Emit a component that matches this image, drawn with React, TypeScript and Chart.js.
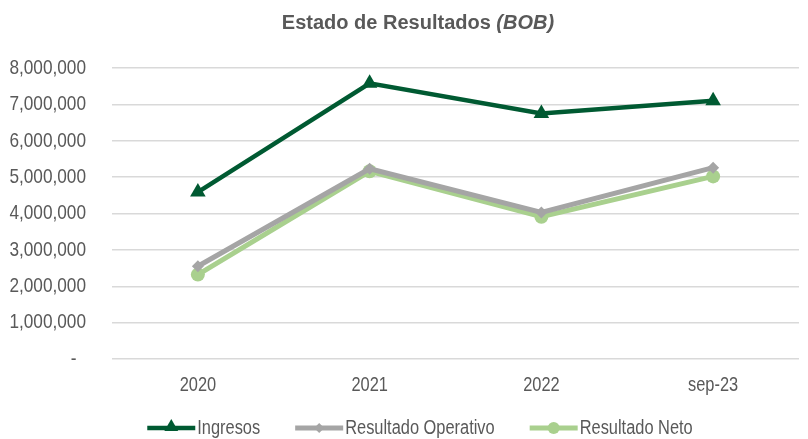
import React, { useEffect, useRef } from "react";
import { Chart, registerables } from "chart.js";

Chart.register(...registerables);

const categories = ["2020", "2021", "2022", "sep-23"];
const ingresos = [4590000, 7580000, 6750000, 7100000];
const resultadoOperativo = [2550000, 5230000, 4030000, 5260000];
const resultadoNeto = [2320000, 5160000, 3910000, 5020000];
const yTicks = [0, 1000000, 2000000, 3000000, 4000000, 5000000, 6000000, 7000000, 8000000];
const seriesNames = ["Ingresos", "Resultado Operativo", "Resultado Neto"];
const seriesColors = ["#005A32", "#A5A5A5", "#A9D08E"];

const FONT = "'Liberation Sans', Arial, sans-serif";
const TEXT = "#595959";
const SX = 0.82; // emulate a narrow face

function drawMarker(ctx: CanvasRenderingContext2D, style: string, x: number, y: number, r: number) {
  ctx.beginPath();
  if (style === "triangle") {
    ctx.moveTo(x, y - r);
    ctx.lineTo(x + r * 0.866, y + r * 0.5);
    ctx.lineTo(x - r * 0.866, y + r * 0.5);
    ctx.closePath();
  } else if (style === "rectRot") {
    ctx.moveTo(x, y - r);
    ctx.lineTo(x + r, y);
    ctx.lineTo(x, y + r);
    ctx.lineTo(x - r, y);
    ctx.closePath();
  } else {
    ctx.arc(x, y, r, 0, Math.PI * 2);
  }
  ctx.fill();
}

let scaleOn = true;

const titlePlugin = {
  id: "customTitle",
  afterDraw(chart: any) {
    const ctx = chart.ctx;
    scaleOn = false;
    ctx.save();
    const a = "Estado de Resultados ";
    const b = "(BOB)";
    ctx.font = `bold 20px ${FONT}`;
    const wa = ctx.measureText(a).width;
    ctx.font = `italic bold 20px ${FONT}`;
    const wb = ctx.measureText(b).width;
    const x0 = chart.width / 2 + 14 - (wa + wb) / 2;
    ctx.fillStyle = TEXT;
    ctx.textBaseline = "middle";
    ctx.textAlign = "left";
    ctx.font = `bold 20px ${FONT}`;
    ctx.fillText(a, x0, 23);
    ctx.font = `italic bold 20px ${FONT}`;
    ctx.fillText(b, x0 + wa, 23);
    ctx.restore();
    scaleOn = true;
  },
};

const noEdgePadding = {
  id: "noEdgePadding",
  beforeLayout(chart: any) {
    const x = chart.scales.x;
    if (x && !x.__patchedPad) {
      x.__patchedPad = true;
      x._calculatePadding = function () {
        this.paddingLeft = 0;
        this.paddingRight = 0;
        this.paddingTop = 0;
        this.paddingBottom = 0;
      };
    }
  },
};

const legendPlugin = {
  id: "customLegend",
  afterDraw(chart: any) {
    const ctx = chart.ctx as CanvasRenderingContext2D;
    const ds = chart.data.datasets;
    const lineLen = 48;
    const textGap = 2;
    const itemGap = 35;
    const y = 428;
    ctx.save();
    ctx.font = `20px ${FONT}`;
    const widths = ds.map((d: any) => ctx.measureText(d.label).width);
    const total = widths.reduce((s: number, w: number) => s + w + lineLen + textGap, 0) + itemGap * (ds.length - 1);
    let x = chart.width / 2 + 16 - total / 2;
    ds.forEach((d: any, i: number) => {
      ctx.strokeStyle = d.borderColor;
      ctx.fillStyle = d.borderColor;
      ctx.lineWidth = d.borderWidth;
      ctx.beginPath();
      ctx.moveTo(x, y);
      ctx.lineTo(x + lineLen, y);
      ctx.stroke();
      const r = d.pointStyle === "triangle" ? 8 : d.pointStyle === "rectRot" ? 5 : 6;
      drawMarker(ctx, d.pointStyle, x + lineLen / 2, d.pointStyle === "triangle" ? y - 1 : y, r);
      ctx.fillStyle = TEXT;
      ctx.textAlign = "left";
      ctx.textBaseline = "middle";
      ctx.fillText(d.label, x + lineLen + textGap, y);
      x += lineLen + textGap + widths[i] + itemGap;
    });
    ctx.restore();
  },
};

function patchContext(ctx: any) {
  if (ctx.__patched) return;
  ctx.__patched = true;
  const origFill = ctx.fillText.bind(ctx);
  const origMeasure = ctx.measureText.bind(ctx);
  ctx.fillText = (t: string, x: number, y: number, mw?: number) => {
    if (!scaleOn) return origFill(t, x, y);
    ctx.save();
    ctx.translate(x, y);
    ctx.scale(SX, 1);
    origFill(t, 0, 0);
    ctx.restore();
  };
  ctx.measureText = (t: string) => {
    const m = origMeasure(t);
    if (!scaleOn) return m;
    return {
      width: m.width * SX,
      actualBoundingBoxAscent: m.actualBoundingBoxAscent,
      actualBoundingBoxDescent: m.actualBoundingBoxDescent,
      actualBoundingBoxLeft: m.actualBoundingBoxLeft * SX,
      actualBoundingBoxRight: m.actualBoundingBoxRight * SX,
      fontBoundingBoxAscent: m.fontBoundingBoxAscent,
      fontBoundingBoxDescent: m.fontBoundingBoxDescent,
    };
  };
}

export default function App() {
  const ref = useRef<HTMLCanvasElement>(null);
  useEffect(() => {
    document.body.style.margin = "0";
    document.body.style.overflow = "hidden";
    document.documentElement.style.overflow = "hidden";
    const canvas = ref.current!;
    const ctx = canvas.getContext("2d")!;
    patchContext(ctx);
    const styles = ["triangle", "rectRot", "circle"];
    const radii = [9, 6, 7];
    const widths = [4.5, 5, 5];
    const values = [ingresos, resultadoOperativo, resultadoNeto];
    const chart = new Chart(ctx, {
      type: "line",
      data: {
        labels: categories,
        datasets: seriesNames.map((name, i) => ({
          label: name,
          data: values[i],
          borderColor: seriesColors[i],
          backgroundColor: seriesColors[i],
          borderWidth: widths[i],
          pointStyle: styles[i],
          pointRadius: radii[i],
          pointBorderWidth: 0,
        })),
      },
      options: {
        responsive: false,
        animation: false,
        layout: { padding: { top: 68, left: 0, right: -2, bottom: 28 } },
        plugins: {
          title: { display: false },
          tooltip: { enabled: false },
          legend: { display: false },
        },
        scales: {
          x: {
            offset: true,
            grid: { display: false, drawTicks: false },
            border: { display: false },
            ticks: { color: TEXT, font: { family: FONT, size: 20 }, padding: 14 },
          },
          y: {
            min: 0,
            max: 8000000,
            afterBuildTicks: (s: any) => {
              s.ticks = yTicks.map((v) => ({ value: v }));
            },
            afterFit: (s: any) => {
              s.width = 112;
            },
            grid: { color: "#D9D9D9", lineWidth: 1.5, drawTicks: false },
            border: { display: false },
            ticks: {
              color: TEXT,
              padding: 26,
              font: { family: FONT, size: 21 },
              callback: (v: any) => (Number(v) === 0 ? "-  " : Number(v).toLocaleString("en-US")),
            },
          },
        },
      },
      plugins: [noEdgePadding, titlePlugin, legendPlugin],
    });
    return () => chart.destroy();
  }, []);
  return <canvas ref={ref} width={808} height={439} style={{ display: "block" }} />;
}
